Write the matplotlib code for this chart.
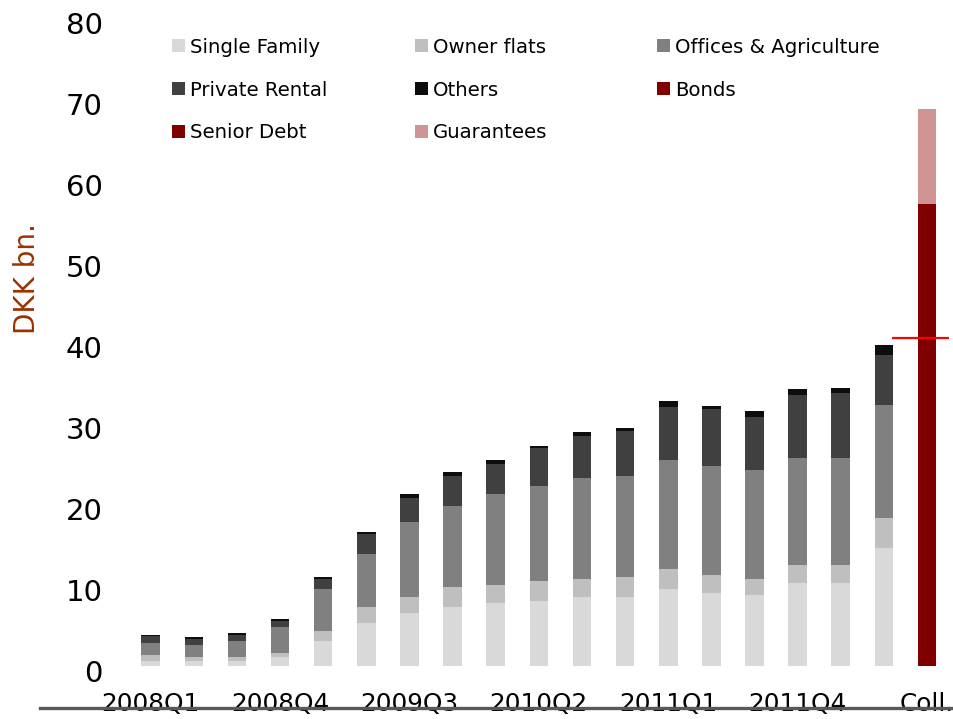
import numpy as np
import matplotlib.pyplot as plt
from matplotlib.patches import Rectangle
from matplotlib.lines import Line2D
from matplotlib.transforms import ScaledTranslation

# ---- data (DKK bn.) ----
quarters = ['2008Q1', '2008Q2', '2008Q3', '2008Q4', '2009Q1', '2009Q2',
            '2009Q3', '2009Q4', '2010Q1', '2010Q2', '2010Q3', '2010Q4',
            '2011Q1', '2011Q2', '2011Q3', '2011Q4', '2012Q1', '2012Q2']
single_family = [0.62, 0.62, 0.62, 1.11, 3.09, 5.27, 6.50, 7.24, 7.74, 7.98,
                 8.48, 8.48, 9.47, 8.97, 8.72, 10.21, 10.21, 14.53]
owner_flats = [0.66, 0.45, 0.45, 0.41, 1.19, 1.98, 1.98, 2.47, 2.22, 2.47,
               2.22, 2.47, 2.51, 2.26, 1.98, 2.22, 2.22, 3.66]
offices_agri = [1.56, 1.48, 1.98, 3.25, 5.19, 6.50, 9.22, 10.00, 11.23, 11.73,
                12.47, 12.47, 13.46, 13.42, 13.46, 13.21, 13.21, 13.99]
private_rental = [0.78, 0.78, 0.78, 0.78, 1.28, 2.51, 3.00, 3.70, 3.66, 4.65,
                  5.19, 5.56, 6.50, 7.04, 6.54, 7.78, 8.02, 6.13]
others = [0.16, 0.16, 0.16, 0.16, 0.21, 0.21, 0.45, 0.45, 0.58, 0.29,
          0.53, 0.41, 0.70, 0.41, 0.70, 0.70, 0.66, 1.28]

coll_label = 'Coll.'
coll_bonds = 57.0
coll_senior_debt = 0.0
coll_guarantees = 11.7
ref_level = 40.4

loan_series = [
    ('Single Family', single_family, '#D9D9D9'),
    ('Owner flats', owner_flats, '#BFBFBF'),
    ('Offices & Agriculture', offices_agri, '#808080'),
    ('Private Rental', private_rental, '#404040'),
    ('Others', others, '#0D0D0D'),
]
coll_series = [
    ('Bonds', coll_bonds, '#800000'),
    ('Senior Debt', coll_senior_debt, '#800000'),
    ('Guarantees', coll_guarantees, '#D09494'),
]

W, H = 954, 719
fig = plt.figure(figsize=(W / 100, H / 100), dpi=100)
ax = fig.add_axes([129.1 / W, 53.3 / H, 819.5 / W, 648 / H])

x = np.arange(len(quarters))
x_coll = len(quarters)
bw = 0.43

bottom = np.zeros(len(quarters))
for name, vals, col in loan_series:
    ax.bar(x, vals, bw, bottom=bottom, color=col, edgecolor='none')
    bottom += np.array(vals)

cb = 0.0
for name, val, col in coll_series:
    ax.bar(x_coll, val, bw, bottom=cb, color=col, edgecolor='none')
    cb += val

# red reference marker across the collateral bar
ax.hlines(ref_level, x_coll - 0.81, x_coll + 0.5, color='#FF0000', lw=1.6,
          clip_on=False, zorder=5)

ax.set_xlim(-0.5, x_coll + 0.5)
ax.set_ylim(0, 80)
for s in ax.spines.values():
    s.set_visible(False)

all_labels = quarters + [coll_label]
tick_pos = list(range(0, len(all_labels), 3))
ax.set_xticks(tick_pos)
ax.set_xticklabels([all_labels[i] for i in tick_pos])
ax.set_yticks(np.arange(0, 81, 10))
ax.tick_params(axis='x', length=0, pad=19, labelsize=17.8, colors='black')
ax.tick_params(axis='y', length=0, pad=19, labelsize=21, colors='black')

shift = ScaledTranslation(0, -5 / 100, fig.dpi_scale_trans)
for lab in ax.get_yticklabels():
    lab.set_transform(lab.get_transform() + shift)

fig.text(27 / W, 1 - 279 / H, 'DKK bn.', rotation=90, ha='center',
         va='center', color='#993300', fontsize=20)

# bottom axis line (sits through the category labels, as in the original)
fig.add_artist(Line2D([40 / W, 1.0], [1 - 708 / H] * 2, color='#595959',
                      lw=2.4, transform=fig.transFigure, zorder=10))

# legend, laid out row by row
leg_items = [(n, c) for n, _, c in loan_series[:3]] + \
            [(n, c) for n, _, c in loan_series[3:]] + \
            [(n, c) for n, _, c in coll_series]
col_x = [172, 415, 657]
row_y = [45.5, 88.5, 131]
for i, (name, col) in enumerate(leg_items):
    r, c = divmod(i, 3)
    px, py = col_x[c], row_y[r]
    fig.add_artist(Rectangle((px / W, 1 - (py + 6.5) / H), 13 / W, 13 / H,
                             transform=fig.transFigure, color=col, lw=0))
    fig.text((px + 18) / W, 1 - (py + 7.5) / H, name, fontsize=14.25,
             va='baseline', ha='left', color='black')

fig.savefig('out.png', dpi=100)
